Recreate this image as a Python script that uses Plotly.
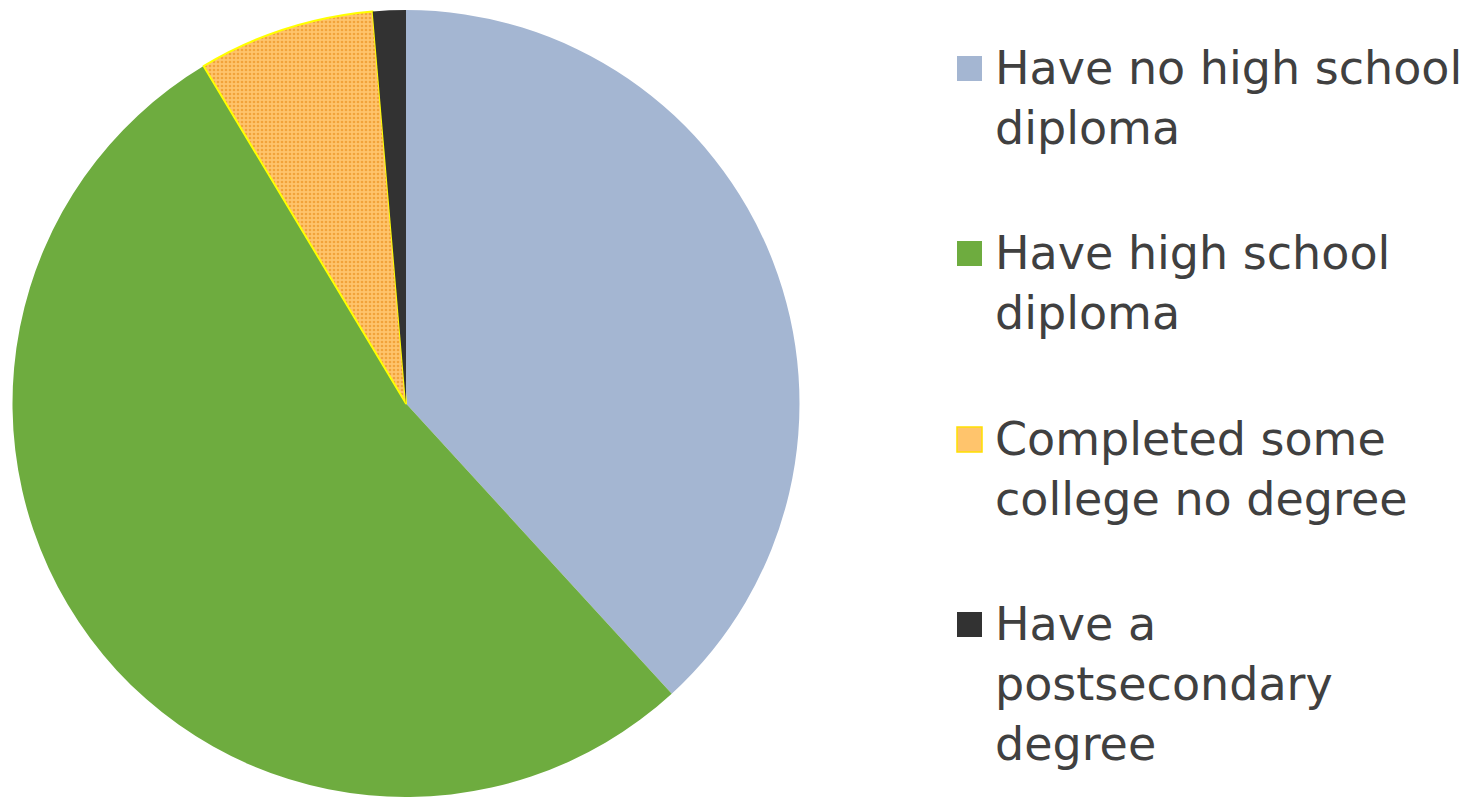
import plotly.graph_objects as go

# Educational attainment shares (percent)
labels = [
    "Have no high school diploma",
    "Have high school diploma",
    "Completed some college no degree",
    "Have a postsecondary degree",
]
legend_lines = [
    ["Have no high school", "diploma"],
    ["Have high school", "diploma"],
    ["Completed some", "college no degree"],
    ["Have a", "postsecondary", "degree"],
]
values = [38.2, 53.2, 7.25, 1.35]
colors = ["#A4B6D2", "#6EAC3F", "#FFC46C", "#323232"]

W, H = 1478, 797

fig = go.Figure(
    go.Pie(
        labels=labels,
        values=values,
        sort=False,
        direction="clockwise",
        rotation=0,
        textinfo="none",
        showlegend=False,
        domain=dict(x=[11 / W, 801 / W], y=[0, 1 - 10 / H]),
        marker=dict(
            colors=colors,
            line=dict(color=["#A4B6D2", "#6EAC3F", "#FFFF00", "#323232"],
                      width=[0, 0, 2, 0]),
            pattern=dict(
                shape=["", "", ".", ""],
                fgcolor="#F2A33A",
                bgcolor="#FFC46C",
                size=4,
                solidity=0.35,
            ),
        ),
    )
)

# Hand-placed legend: swatch squares plus wrapped labels
item_tops = [52, 237, 423, 608]
sw_x0, sw_x1 = 957, 982
for i, (lines, top) in enumerate(zip(legend_lines, item_tops)):
    sq_top = top + 4
    fig.add_shape(
        type="rect", xref="paper", yref="paper",
        x0=sw_x0 / W, x1=sw_x1 / W,
        y0=1 - sq_top / H, y1=1 - (sq_top + 25) / H,
        fillcolor=colors[i],
        line=dict(color="#FFE000" if i == 2 else colors[i], width=1.5 if i == 2 else 0),
    )
    fig.add_annotation(
        x=993 / W, y=1 - (top - 13) / H, xref="paper", yref="paper",
        xanchor="left", yanchor="top", align="left",
        text="<br>".join(lines), showarrow=False,
        font=dict(family="DejaVu Sans", size=46, color="#404040"),
    )

fig.update_layout(
    width=W, height=H,
    margin=dict(l=0, r=0, t=0, b=0),
    paper_bgcolor="white",
    plot_bgcolor="white",
)

fig.write_html("out.html")
